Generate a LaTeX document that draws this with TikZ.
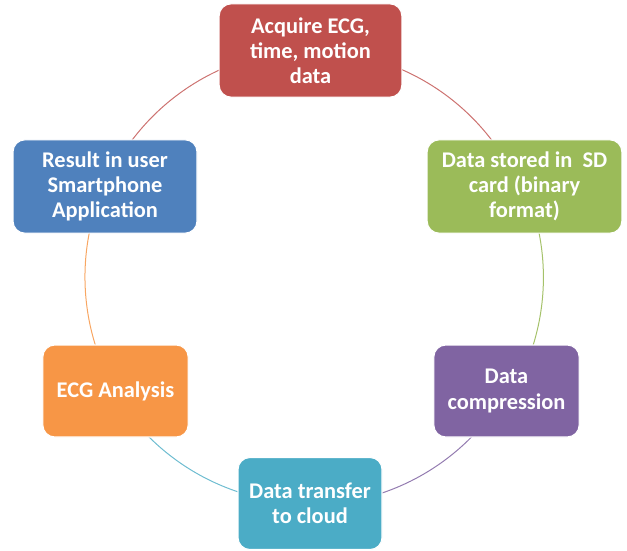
\documentclass[tikz,border=0pt]{standalone}
\usepackage{fontspec}
\setmainfont{Carlito}
\usetikzlibrary{backgrounds}
\definecolor{cred}{HTML}{C0504D}
\definecolor{cgreen}{HTML}{9BBB59}
\definecolor{cpurple}{HTML}{8064A2}
\definecolor{cteal}{HTML}{4BACC6}
\definecolor{corange}{HTML}{F79646}
\definecolor{cblue}{HTML}{4F81BD}
\tikzset{
  box/.style={rounded corners=9pt, draw=white, line width=0.8pt, text=white,
    font=\fontsize{16.8}{18.8}\selectfont\bfseries, align=center, inner sep=0pt},
  cyc/.style={line width=0.75pt}
}
\begin{document}
\begin{tikzpicture}[x=0.75pt,y=0.75pt]
\path[use as bounding box] (0,0) rectangle (627,-550);
\node[box, fill=cred, minimum width=137pt, minimum height=70pt] (acq) at (310.5,-50.5) {Acquire ECG,\\time, motion\\data};
\node[box, fill=cgreen, minimum width=146pt, minimum height=70pt] (sd) at (524.5,-186.5) {Data stored in\ \ SD\\card (binary\\format)};
\node[box, fill=cpurple, minimum width=109pt, minimum height=69pt] (comp) at (506.5,-391) {Data\\compression};
\node[box, fill=cteal, minimum width=108pt, minimum height=69pt] (cloud) at (310,-503.5) {Data transfer\\to cloud};
\node[box, fill=corange, minimum width=109pt, minimum height=69pt] (ecg) at (115.5,-391) {ECG Analysis};
\node[box, fill=cblue, minimum width=138pt, minimum height=70pt] (res) at (105,-186.5) {Result in user\\Smartphone\\Application};
\begin{scope}[on background layer]
\draw[cyc, cred!80] (acq.center) arc[start angle=90, end angle=23.5, radius=228];
\draw[cyc, cgreen!90] (sd.center) arc[start angle=23.5, end angle=-30, radius=228];
\draw[cyc, cpurple!85] (comp.center) arc[start angle=-30, end angle=-90, radius=228];
\draw[cyc, cteal!80] (cloud.center) arc[start angle=-90, end angle=-150, radius=228];
\draw[cyc, corange!85] (ecg.center) arc[start angle=210, end angle=156.5, radius=228];
\draw[cyc, cred!80] (res.center) arc[start angle=156.5, end angle=90, radius=228];
\end{scope}
\end{tikzpicture}
\end{document}
